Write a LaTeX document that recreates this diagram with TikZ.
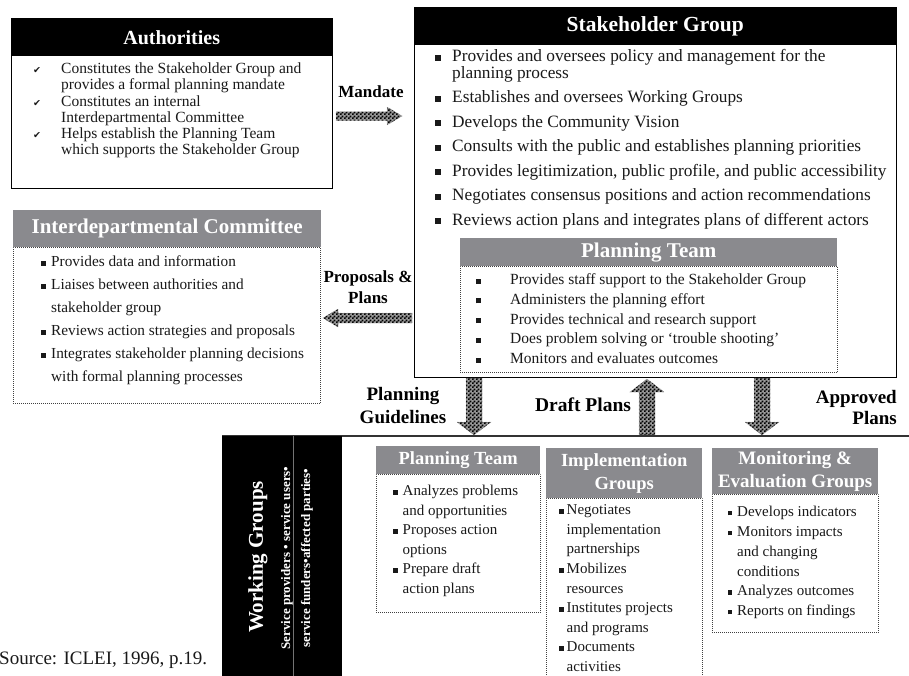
\documentclass[tikz,border=0pt]{standalone}
\usepackage{fontspec}
\setmainfont{Liberation Serif}
\newfontfamily\djv{DejaVu Sans}
\usetikzlibrary{patterns}
\pgfdeclarepatternformonly{finechecker}{\pgfpointorigin}{\pgfqpoint{4pt}{4pt}}{\pgfqpoint{4pt}{4pt}}{%
  \pgfpathrectangle{\pgfpointorigin}{\pgfqpoint{2.05pt}{2.05pt}}%
  \pgfpathrectangle{\pgfqpoint{2pt}{2pt}}{\pgfqpoint{2.05pt}{2.05pt}}%
  \pgfusepath{fill}}
\definecolor{hdrgray}{RGB}{138,138,142}
\definecolor{txt}{RGB}{25,25,25}
\newcommand\fsz[2]{\fontsize{#1}{#2}\selectfont}
\newcommand\sqb[2]{\makebox[#2][l]{\raisebox{\dimexpr0.23em-#1/2\relax}{\rule{#1}{#1}}}}
\newcommand\chk{\makebox[28pt][l]{{\djv\fontsize{9.5}{9.5}\selectfont ✔}}}
\newcommand\lst[1]{\begin{tabular}[t]{@{}l@{}}#1\end{tabular}}
\tikzset{
  hdrblk/.style={fill=black, text=white, inner sep=0pt, anchor=north west},
  hdrgry/.style={fill=hdrgray, text=white, inner sep=0pt, anchor=north west, align=center},
  solidbody/.style={draw=black, line width=1pt, fill=white, inner sep=0pt, anchor=north west},
  dotbody/.style={draw=black!75, line width=0.8pt, dash pattern=on 0.8pt off 1.2pt, inner sep=0pt, anchor=north west},
  lstnode/.style={inner sep=0pt, anchor=north west, text=txt},
  lbl/.style={text=black, inner sep=0pt, align=center},
  blockarr/.style={preaction={fill=black!40}, pattern=finechecker, draw=black!60, densely dotted, line width=0.4pt}
}
\begin{document}
\begin{tikzpicture}[x=1pt,y=-1pt]
\useasboundingbox (0,0) rectangle (909,675);
\fill[white] (0,0) rectangle (909,675);

% ---------- Authorities ----------
\node[solidbody, minimum width=321pt, minimum height=170pt] (authB) at (11,18) {};
\node[hdrblk, minimum width=321pt, minimum height=38pt, font=\bfseries\fsz{20}{20}] (authH) at (11,18) {Authorities};
\node[lstnode, font=\fsz{15.5}{16.2}] (authL) at (33,62.2) {\lst{%
\chk Constitutes the Stakeholder Group and\\
\hspace*{28pt}provides a formal planning mandate\\
\chk Constitutes an internal\\
\hspace*{28pt}Interdepartmental Committee\\
\chk Helps establish the Planning Team\\
\hspace*{28pt}which supports the Stakeholder Group}};

% ---------- Stakeholder Group ----------
\node[solidbody, line width=1.3pt, minimum width=482pt, minimum height=370pt] (stakeB) at (414,7) {};
\node[hdrblk, minimum width=482pt, minimum height=38pt, font=\bfseries\fsz{21.5}{21.5}] (stakeH) at (414,7) {Stakeholder Group};
\node[lstnode, font=\fsz{17.3}{17}] (stakeL) at (435,49.1) {\lst{%
\sqb{6pt}{17pt}Provides and oversees policy and management for the\\
\hspace*{17pt}planning process\\[7.3pt]
\sqb{6pt}{17pt}Establishes  and oversees Working Groups\\[7.3pt]
\sqb{6pt}{17pt}Develops the Community Vision\\[7.3pt]
\sqb{6pt}{17pt}Consults with the public and establishes planning priorities\\[7.3pt]
\sqb{6pt}{17pt}Provides legitimization, public profile, and public accessibility\\[7.3pt]
\sqb{6pt}{17pt}Negotiates consensus positions and action recommendations\\[7.3pt]
\sqb{6pt}{17pt}Reviews action plans and integrates plans of different actors}};

% ---------- Planning Team (inner) ----------
\node[dotbody, fill=white, minimum width=377pt, minimum height=106pt] (ptB) at (460,266) {};
\node[hdrgry, minimum width=377pt, minimum height=28pt, font=\bfseries\fsz{21}{21}] (ptH) at (460,238) {Planning Team};
\node[lstnode, font=\fsz{15.5}{19.7}] (ptL) at (475.5,270.8) {\lst{%
\sqb{5pt}{34.5pt}Provides staff support to the Stakeholder Group\\
\sqb{5pt}{34.5pt}Administers the planning effort\\
\sqb{5pt}{34.5pt}Provides technical and research support\\
\sqb{5pt}{34.5pt}Does problem solving or ‘trouble shooting’\\
\sqb{5pt}{34.5pt}Monitors and evaluates outcomes}};

% ---------- Interdepartmental Committee ----------
\node[dotbody, minimum width=307pt, minimum height=156pt] (idcB) at (13,247) {};
\node[hdrgry, minimum width=308pt, minimum height=37pt, font=\bfseries\fsz{21}{21}] (idcH) at (13,210) {Interdepartmental Committee};
\node[lstnode, font=\fsz{15.3}{23}] (idcL) at (40.5,250.4) {\lst{%
\sqb{5pt}{10.5pt}Provides data and information\\
\sqb{5pt}{10.5pt}Liaises between authorities and\\
\hspace*{10.5pt}stakeholder group\\
\sqb{5pt}{10.5pt}Reviews action strategies and proposals\\
\sqb{5pt}{10.5pt}Integrates stakeholder planning decisions\\
\hspace*{10.5pt}with formal planning processes}};

% ---------- Arrow labels ----------
\node[lbl, font=\bfseries\fsz{17}{17}] (mandT) at (371,92) {Mandate};
\node[lbl, font=\bfseries\fsz{17}{21}] (propT) at (368,287.5) {Proposals \&\\Plans};
\node[lbl, font=\bfseries\fsz{19}{23}] (guideT) at (403,405.5) {Planning\\Guidelines};
\node[lbl, font=\bfseries\fsz{19.5}{19.5}] (draftT) at (583,405) {Draft Plans};
\node[lbl, align=right, anchor=east, font=\bfseries\fsz{19}{21}] (apprT) at (897,407.5) {Approved\\Plans};

% ---------- Block arrows ----------
\path[blockarr] (336,111.5) -- (387,111.5) -- (387,107) -- (402,116) -- (387,125) -- (387,120.5) -- (336,120.5) -- cycle;
\path[blockarr] (412,313) -- (338,313) -- (338,309) -- (323,318) -- (338,327) -- (338,323) -- (412,323) -- cycle;
\path[blockarr] (466,378) -- (482,378) -- (482,422) -- (491,422) -- (474,435) -- (457,422) -- (466,422) -- cycle;
\path[blockarr] (639,435) -- (655,435) -- (655,392) -- (664,392) -- (647,379) -- (630,392) -- (639,392) -- cycle;
\path[blockarr] (754,378) -- (770,378) -- (770,422) -- (779,422) -- (762,435) -- (745,422) -- (754,422) -- cycle;

% ---------- Working groups band ----------
\draw[line width=2pt, black!80] (222,436) -- (909,436);
\node[fill=black, minimum width=120pt, minimum height=240pt, inner sep=0pt, anchor=north west] (wgB) at (222,436) {};
\draw[black!55, line width=0.8pt] (293,436) -- (293,676);
\node[rotate=90, text=white, inner sep=0pt, font=\bfseries\fsz{21}{21}] (wgT) at (258,557) {Working Groups};
\node[rotate=90, text=white, inner sep=0pt, font=\bfseries\fsz{13}{13}] (wg1) at (287,558) {Service providers • service users•};
\node[rotate=90, text=white, inner sep=0pt, font=\bfseries\fsz{13}{13}] (wg2) at (307,558) {service funders•affected parties•};

% ---------- Bottom: Planning Team ----------
\node[dotbody, minimum width=164pt, minimum height=138pt] (bptB) at (376,474) {};
\node[hdrgry, minimum width=164pt, minimum height=28pt, font=\bfseries\fsz{18.5}{18.5}] (bptH) at (376,446) {Planning Team};
\node[lstnode, font=\fsz{15}{19.5}] (bptL) at (393,481.8) {\lst{%
\sqb{5pt}{9.5pt}Analyzes problems\\
\hspace*{9.5pt}and opportunities\\
\sqb{5pt}{9.5pt}Proposes action\\
\hspace*{9.5pt}options\\
\sqb{5pt}{9.5pt}Prepare draft\\
\hspace*{9.5pt}action plans}};

% ---------- Bottom: Implementation Groups ----------
\node[dotbody, minimum width=156pt, minimum height=180pt] (impB) at (546,498) {};
\node[hdrgry, minimum width=156pt, minimum height=50pt, font=\bfseries\fsz{18.5}{23}] (impH) at (546,448) {Implementation\\Groups};
\node[lstnode, font=\fsz{15}{19.6}] (impL) at (558.5,500.8) {\lst{%
\sqb{5pt}{8pt}Negotiates\\
\hspace*{8pt}implementation\\
\hspace*{8pt}partnerships\\
\sqb{5pt}{8pt}Mobilizes\\
\hspace*{8pt}resources\\
\sqb{5pt}{8pt}Institutes projects\\
\hspace*{8pt}and programs\\
\sqb{5pt}{8pt}Documents\\
\hspace*{8pt}activities}};

% ---------- Bottom: Monitoring & Evaluation Groups ----------
\node[dotbody, minimum width=166pt, minimum height=138pt] (monB) at (712,494) {};
\node[hdrgry, minimum width=166pt, minimum height=46pt, font=\bfseries\fsz{19}{23}] (monH) at (712,448) {Monitoring \&\\Evaluation Groups};
\node[lstnode, font=\fsz{15}{19.8}] (monL) at (727.5,502.6) {\lst{%
\sqb{4.5pt}{9.5pt}Develops indicators\\
\sqb{4.5pt}{9.5pt}Monitors impacts\\
\hspace*{9.5pt}and changing\\
\hspace*{9.5pt}conditions\\
\sqb{4.5pt}{9.5pt}Analyzes outcomes\\
\sqb{4.5pt}{9.5pt}Reports on findings}};

% ---------- Source ----------
\node[inner sep=0pt, anchor=west, text=txt, font=\fsz{19}{19}] (src) at (-1,660) {Source: ICLEI, 1996, p.19.};
\end{tikzpicture}
\end{document}
